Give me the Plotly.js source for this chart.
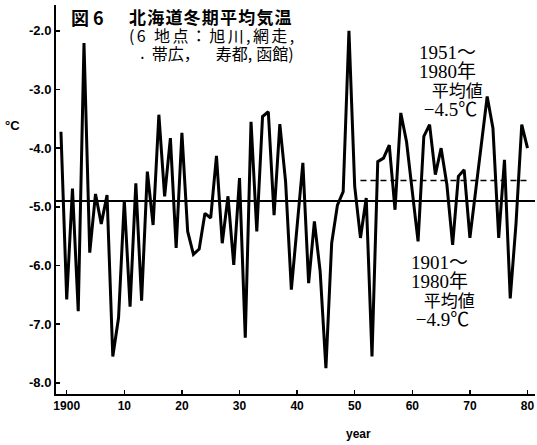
<!DOCTYPE html>
<html>
<head>
<meta charset="utf-8">
<script src="https://cdn.plot.ly/plotly-3.0.1.min.js"></script>
<style>html,body{margin:0;padding:0;background:#fff;}#chart{width:537px;height:445px;}</style>
</head>
<body>
<div id="chart"></div>
<script>
// ---- data ----
const years = [1899,1900,1901,1902,1903,1904,1905,1906,1907,1908,1909,
  1910,1911,1912,1913,1914,1915,1916,1917,1918,1919,
  1920,1921,1922,1923,1924,1925,1926,1927,1928,1929,
  1930,1931,1932,1933,1934,1935,1936,1937,1938,1939,
  1940,1941,1942,1943,1944,1945,1946,1947,1948,1949,
  1950,1951,1952,1953,1954,1955,1956,1957,1958,1959,
  1960,1961,1962,1963,1964,1965,1966,1967,1968,1969,
  1970,1971,1972,1973,1974,1975,1976,1977,1978,1979,1980];
const temps = [-3.72,-6.58,-4.69,-6.78,-2.21,-5.78,-4.78,-5.29,-4.80,-7.55,-6.89,
  -4.89,-6.70,-4.60,-6.60,-4.40,-5.31,-3.43,-4.82,-3.83,-5.70,
  -3.74,-5.42,-5.81,-5.72,-5.11,-5.19,-4.13,-5.62,-4.82,-5.99,
  -4.51,-7.23,-3.55,-5.42,-3.46,-3.38,-5.14,-3.59,-4.57,-6.41,
  -5.30,-4.25,-6.30,-5.25,-6.10,-7.75,-5.62,-4.97,-4.74,-2.00,
  -4.65,-5.53,-4.85,-7.55,-4.23,-4.17,-3.95,-5.05,-3.40,-3.89,
  -4.74,-5.59,-3.80,-3.60,-4.45,-4.00,-4.62,-5.65,-4.48,-4.37,
  -5.53,-4.76,-3.97,-3.12,-3.66,-5.53,-4.20,-6.56,-5.29,-3.60,-4.00];
const meanAll = -4.9;          // 1901~1980 mean
const meanRecent = -4.55;      // 1951~1980 mean (as drawn)
const recentStart = 1951, recentEnd = 1980;
const xTickVals = [1900,1910,1920,1930,1940,1950,1960,1970,1980];
const xTickText = ["1900","10","20","30","40","50","60","70","80"];
const yTickVals = [-2,-3,-4,-5,-6,-7,-8];
const yTickText = ["-2.0","-3.0","-4.0","-5.0","-6.0","-7.0","-8.0"];

// ---- layout helpers (pixel -> paper) ----
const L = 56, T = 5, W = 479, H = 389;
const px = x => (x - L) / W;
const py = y => (T + H - y) / H;
const cjk = '"Noto Sans CJK JP", sans-serif';
const serif = '"Liberation Serif", "Noto Sans CJK JP", serif';
const sans = '"Liberation Sans", Arial, sans-serif';
function ann(text, x, y, size, family, opts) {
  const o = opts || {};
  return {text: text, xref: 'paper', yref: 'paper', x: px(x), y: py(y),
    xanchor: o.xanchor || 'left', yanchor: o.yanchor || 'middle', align: o.align || 'left',
    showarrow: false,
    font: {family: family, size: size, color: '#000', weight: o.weight || 'normal'}};
}

const titleBlock =
  '<span style="font-size:17px;font-weight:bold;letter-spacing:1.2px">北海道冬期平均気温</span><br>' +
  '<span style="font-size:16px;letter-spacing:2.4px">(6 地点：旭川,網走,</span><br>' +
  '<span style="font-size:16px">\u2002\u2005<span style="font-size:8px">•</span>\u2002帯広，\u2003寿都,\u2005函館)</span>';
const upperBlock =
  '<span style="font-size:19px">1951～</span><br>' +
  '<span style="font-size:19px">1980年</span><br>' +
  '<span style="font-size:17px">\u2002\u2005平均値</span><br>' +
  '<span style="font-size:19px">\u2005−4.5℃</span>';
const lowerBlock =
  '<span style="font-size:19px">1901～</span><br>' +
  '<span style="font-size:19px">1980年</span><br>' +
  '<span style="font-size:17px">\u2002\u2005平均値</span><br>' +
  '<span style="font-size:19px">\u2005−4.9℃</span>';

const traces = [{
  x: years, y: temps, type: 'scatter', mode: 'lines',
  line: {color: '#000', width: 3}, hoverinfo: 'skip'
}];

const layout = {
  width: 537, height: 445,
  margin: {l: L, r: 537 - L - W, t: T, b: 445 - T - H},
  paper_bgcolor: '#fff', plot_bgcolor: '#fff',
  showlegend: false,
  xaxis: {range: [1898.14, 1981.3], tickvals: xTickVals, ticktext: xTickText,
    ticks: 'inside', ticklen: 4, tickwidth: 1.5, tickcolor: '#000',
    showline: true, linecolor: '#000', linewidth: 2, showgrid: false, zeroline: false,
    tickfont: {family: sans, size: 12, color: '#000', weight: 'bold'}},
  yaxis: {range: [-8.19, -1.56], tickvals: yTickVals, ticktext: yTickText,
    ticks: 'inside', ticklen: 4, tickwidth: 1.5, tickcolor: '#000',
    showline: true, linecolor: '#000', linewidth: 2, showgrid: false, zeroline: false,
    tickfont: {family: sans, size: 13, color: '#000', weight: 'bold'}},
  shapes: [
    {type: 'line', xref: 'paper', yref: 'y', x0: 0, x1: 1, y0: meanAll, y1: meanAll,
      line: {color: '#000', width: 2}},
    {type: 'line', xref: 'x', yref: 'y', x0: recentStart, x1: recentEnd, y0: meanRecent, y1: meanRecent,
      line: {color: '#000', width: 1.6, dash: '6px,4px'}}
  ],
  annotations: [
    ann('図 6', 87, 17, 18, cjk, {xanchor: 'center', weight: 'bold'}),
    ann(titleBlock, 127, 35, 14, cjk),
    ann(upperBlock, 417, 81, 14.6, serif),
    ann(lowerBlock, 409, 291, 14.6, serif),
    ann('°C', 12, 125, 13, sans, {xanchor: 'center', weight: 'bold'}),
    ann('year', 358, 434, 12, sans, {xanchor: 'center', weight: 'bold'})
  ]
};

Plotly.newPlot('chart', traces, layout, {staticPlot: true, displayModeBar: false});
</script>
</body>
</html>
